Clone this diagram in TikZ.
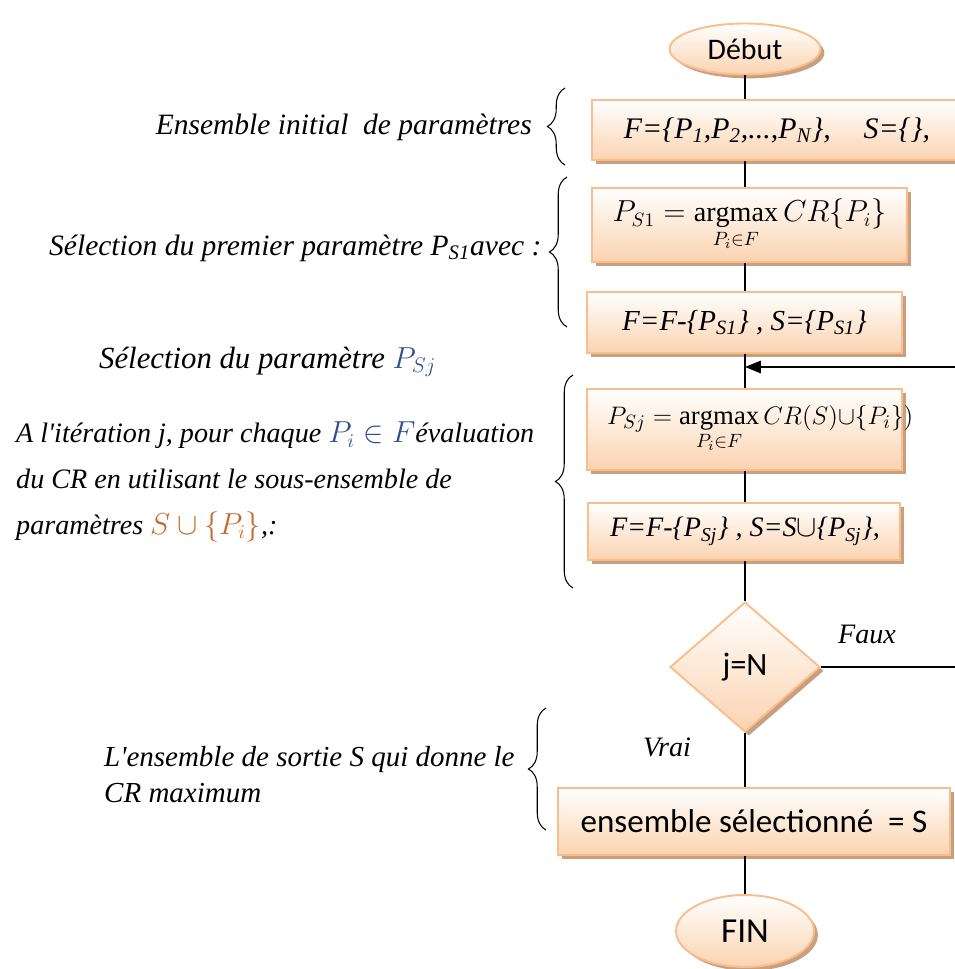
\documentclass[tikz,border=0pt]{standalone}
\usepackage{amsmath,amssymb}
\usepackage{xcolor}
\usepackage{fontspec}
\setmainfont{Liberation Serif}
\newfontfamily\calibri{Carlito}
\usetikzlibrary{shapes,arrows,positioning,calc,shadows,decorations.pathreplacing,arrows.meta}
\definecolor{boxline}{HTML}{F9BE8E}
\definecolor{boxfill}{HTML}{FBD3B0}
\definecolor{boxshadow}{HTML}{C9A07F}
\definecolor{eqblue}{HTML}{2F4F8F}
\definecolor{eqorange}{HTML}{C46A28}

\begin{document}
\begin{tikzpicture}[x=0.02cm, y=-0.02cm,
    box/.style={draw=boxline, line width=1.1pt, top color=white, bottom color=boxfill, inner sep=0pt,
        drop shadow={shadow xshift=2.2pt, shadow yshift=-2.2pt, fill=boxshadow, opacity=1}},
    line/.style={line width=1.1pt},
    brace/.style={decorate, decoration={brace, amplitude=10pt}, line width=0.6pt},
    note/.style={font=\fontsize{16}{26}\selectfont\itshape}]
    \useasboundingbox (0,0) rectangle (954,969);

    \node [box, ellipse, minimum width=3.02cm, minimum height=1.02cm, font=\calibri\fontsize{17}{19}\selectfont] (start) at (745,49) {Début};
    \node [box, minimum width=7.4cm, minimum height=1.2cm, font=\fontsize{17}{19}\selectfont\itshape] (init) at (777,130)
        {F=\{P\textsubscript{1},P\textsubscript{2},...,P\textsubscript{N}\},\hspace{1.1em}S=\{\},};
    \node [box, minimum width=6.3cm, minimum height=1.48cm, font=\fontsize{16}{19}\selectfont] (first) at (749.5,225)
        {$\displaystyle P_{S1}=\operatorname*{argmax}_{P_i\in F} CR\{P_i\}$};
    \node [box, minimum width=6.3cm, minimum height=1.22cm, font=\fontsize{16.5}{18}\selectfont\itshape] (upd1) at (744.5,322.5)
        {F=F-\{P\textsubscript{S1}\} , S=\{P\textsubscript{S1}\}};
    \node [box, minimum width=6.3cm, minimum height=1.62cm, font=\fontsize{15.2}{17}\selectfont] (iter) at (744.5,429.5)
        {\makebox[6.3cm][l]{\hspace{0.4cm}$\displaystyle P_{Sj}=\operatorname*{argmax}_{P_i\in F}CR(S){\cup}\{P_i\})$}};
    \node [box, minimum width=6.24cm, minimum height=1.14cm, font=\fontsize{16}{18}\selectfont\itshape] (upd2) at (744,531.5)
        {\makebox[6.24cm][l]{\hspace{0.44cm}F=F-\{P\textsubscript{Sj}\} , S=S$\mathord{\cup}$\{P\textsubscript{Sj}\},}};
    \node [box, diamond, minimum width=3cm, minimum height=2.6cm, font=\calibri\fontsize{18.5}{20}\selectfont] (test) at (745,667) {j=N};
    \node [box, minimum width=7.84cm, minimum height=1.34cm, font=\calibri\fontsize{18.8}{20}\selectfont] (result) at (754,821.5)
        {ensemble sélectionné \ = S};
    \node [box, ellipse, minimum width=2.76cm, minimum height=1.44cm, font=\calibri\fontsize{20}{22}\selectfont] (fin) at (745,931) {FIN};

    \draw [line] (start) -- (start |- init.north);
    \draw [line] (start |- init.south) -- (start |- first.north);
    \draw [line] (start |- first.south) -- (start |- upd1.north);
    \draw [line] (start |- upd1.south) -- (start |- iter.north);
    \draw [line] (start |- iter.south) -- (start |- upd2.north);
    \draw [line] (start |- upd2.south) -- (test);
    \draw [line] (test) -- (test |- result.north);
    \draw [line] (start |- result.south) -- (fin);
    \coordinate (back) at (745,367);
    \draw [line, -{Triangle[length=9pt,width=7pt]}] (test.east) -- (957,667) -- (957,367) -- (back);
    \node [note, anchor=south] (faux) at (867,650) {Faux};
    \node [note] (vrai) at (667,747) {Vrai};

    \draw [brace] (565,165) -- (565,88);
    \draw [brace] (567,327) -- (567,177);
    \draw [brace] (573,588) -- (573,375);
    \draw [brace] (546,830) -- (546,708);

    \node [note, anchor=east, font=\fontsize{16.8}{20}\selectfont\itshape] (initnote) at (538,127) {Ensemble initial \ de paramètres};
    \node [note, anchor=west, font=\fontsize{16.8}{20}\selectfont\itshape] (firstnote) at (43,248) {Sélection du premier paramètre P\textsubscript{S1}avec :};
    \node [note, anchor=west, font=\fontsize{17.5}{20}\selectfont\itshape] (iternote) at (93,362)
        {Sélection du paramètre \textcolor{eqblue}{$P_{Sj}$}};
    \node [note, anchor=west, align=left] (evalnote) at (10,482)
        {A l\textquotesingle itération j, pour chaque \textcolor{eqblue}{$P_i\in F$}évaluation\\
         du CR en utilisant le sous-ensemble de\\
         paramètres \textcolor{eqorange}{$S\cup\{P_i\}$},:};
    \node [note, anchor=west, align=left, font=\fontsize{16.5}{20.5}\selectfont\itshape] (outnote) at (98,775)
        {L\textquotesingle ensemble de sortie S qui donne le\\CR maximum};
\end{tikzpicture}
\end{document}
